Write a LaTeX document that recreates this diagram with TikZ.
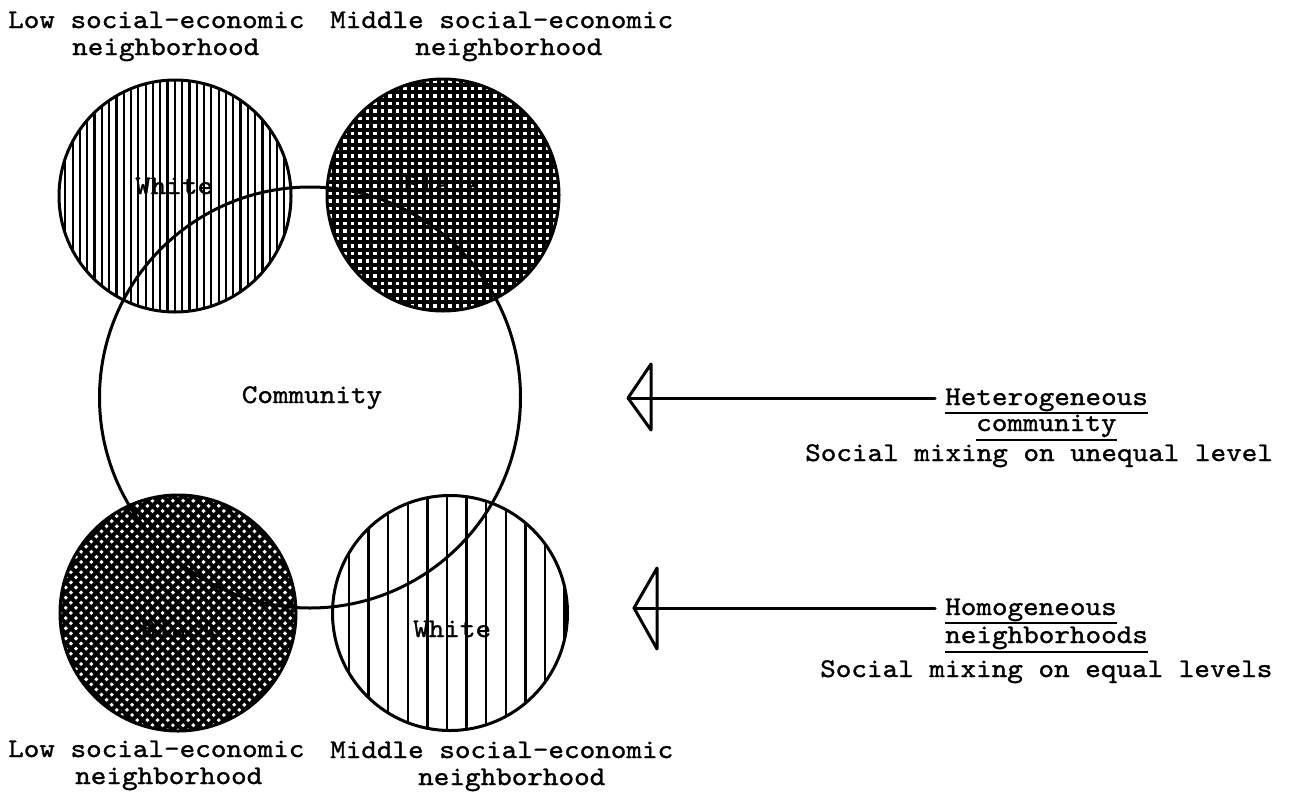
\documentclass[tikz,border=0pt]{standalone}
\usepackage{fontspec}
\newfontfamily\tw{lmmono10-regular}[Extension=.otf, FakeStretch=1.1, FakeBold=1.2]
\tikzset{
  lbl/.style={font=\tw\fontsize{27}{30}\selectfont, inner sep=0pt, anchor=base west},
  ring/.style={line width=3pt, circle, draw, inner sep=0pt},
  arrowline/.style={line width=3pt, line join=round, line cap=round},
  uline/.style={line width=2.5pt},
}
\begin{document}
\begin{tikzpicture}[x=1pt,y=-1pt]
\useasboundingbox (0,0) rectangle (1289,798);
\fill[white] (0,0) rectangle (1289,798);

% top-left: dense vertical lines
\begin{scope}
  \clip (175,196) circle[radius=116pt];
  \foreach \i in {0,...,33} \draw[line width=2.2pt] ({58+7.3*\i},70) -- ({58+7.3*\i},320);
\end{scope}
% top-right: dense square grid
\begin{scope}
  \clip (443,195) circle[radius=116pt];
  \foreach \i in {0,...,32} {
    \draw[line width=4pt] ({326+7.5*\i},75) -- ({326+7.5*\i},315);
    \draw[line width=4pt] (323,{77+7.5*\i}) -- (563,{77+7.5*\i});
  }
\end{scope}
% bottom-left: dense diagonal grid
\begin{scope}
  \clip (178,613) circle[radius=118pt];
  \foreach \k in {-17,...,17} {
    \draw[line width=4pt] ({178+10.2*\k-130},483) -- ({178+10.2*\k+130},743);
    \draw[line width=4pt] ({178+10.2*\k-130},743) -- ({178+10.2*\k+130},483);
  }
\end{scope}
% bottom-right: sparse vertical lines
\begin{scope}
  \clip (450,613) circle[radius=117.5pt];
  \foreach \i in {0,...,12} \draw[line width=2.4pt] ({329.4+19.6*\i},490) -- ({329.4+19.6*\i},740);
\end{scope}

% circle outlines
\node[ring, minimum size=232pt] (tl) at (175,196) {};
\node[ring, minimum size=232pt] (tr) at (443,195) {};
\node[ring, minimum size=236pt] (bl) at (178,613) {};
\node[ring, minimum size=235pt] (br) at (450,613) {};

% labels inside small circles
\node[lbl] (tlw) at (135,194) {White};
\node[lbl] (trb) at (403,192) {Black};
\node[lbl] (blb) at (140,637) {Black};
\node[lbl] (brw) at (413,637) {White};

% community circle
\node[ring, minimum size=421pt] (comm) at (310,397.5) {};
\node[lbl, anchor=base] (commtxt) at (312,403) {Community};

% outer labels
\node[lbl] (tl1) at (8,28) {Low social-economic};
\node[lbl] (tl2) at (72,55) {neighborhood};
\node[lbl] (tr1) at (330,28) {Middle social-economic};
\node[lbl] (tr2) at (415,55) {neighborhood};
\node[lbl] (bl1) at (8,757) {Low social-economic};
\node[lbl] (bl2) at (75,784) {neighborhood};
\node[lbl] (br1) at (330,758) {Middle social-economic};
\node[lbl] (br2) at (418,785) {neighborhood};

% right-hand texts
\node[lbl] (het) at (945,405) {Heterogeneous};
\node[lbl] (hcom) at (976,431) {community};
\node[lbl] (hsoc) at (805,461) {Social mixing on unequal level};
\node[lbl] (hom) at (945,615) {Homogeneous};
\node[lbl] (hnb) at (945,643) {neighborhoods};
\node[lbl] (hsoc2) at (820,677) {Social mixing on equal levels};

\draw[uline] ([yshift=-8pt]het.base west) -- ([yshift=-8pt]het.base east);
\draw[uline] ([yshift=-9pt]hcom.base west) -- ([yshift=-9pt]hcom.base east);
\draw[uline] ([yshift=-8pt]hom.base west) -- ([yshift=-8pt]hom.base east);
\draw[uline] ([yshift=-9pt]hnb.base west) -- ([yshift=-9pt]hnb.base east);

% arrows
\coordinate (tip1) at (628,398);
\coordinate (hd1a) at (651,364);
\coordinate (hd1b) at (651,430);
\draw[arrowline] ([xshift=-10pt]tip1 -| het.west) -- (tip1);
\draw[arrowline] (tip1) -- (hd1a) -- (hd1b) -- cycle;

\coordinate (tip2) at (634,608);
\coordinate (hd2a) at (657,568);
\coordinate (hd2b) at (657,649);
\draw[arrowline] ([xshift=-10pt]tip2 -| hom.west) -- (tip2);
\draw[arrowline] (tip2) -- (hd2a) -- (hd2b) -- cycle;
\end{tikzpicture}
\end{document}
